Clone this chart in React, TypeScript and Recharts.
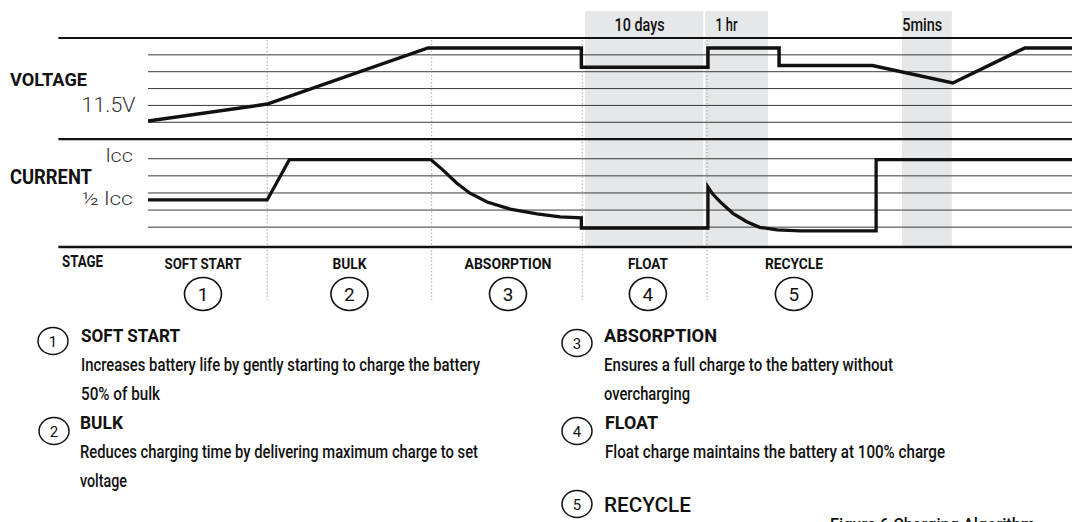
import React from 'react';
import { ComposedChart, Line, XAxis, YAxis, ReferenceLine, ReferenceArea, ReferenceDot } from 'recharts';

const FONT = "Roboto, 'DejaVu Sans', Arial, sans-serif";

// ---- data (time in arbitrary cycle units 0..100, levels in grid units) ----
const VOLT_T = [0, 12.9, 30.3, 46.9, 46.9, 60.6, 60.6, 68.3, 68.3, 78.4, 87.1, 94.9, 100];
const VOLT_V = [1.07, 2.08, 5.41, 5.41, 4.27, 4.27, 5.41, 5.41, 4.37, 4.37, 3.33, 5.41, 5.41];

const CURR_T = [0, 12.9, 15.3, 30.6, 31.9, 33.4, 34.8, 36.7, 39.2, 42.1, 44.6, 46.9, 46.9, 60.6, 60.6, 61.1, 61.9, 63.3, 64.8, 66.2, 68.1, 70.6, 78.8, 78.8, 100];
const CURR_I = [2.59, 2.59, 4.95, 4.95, 4.35, 3.58, 3.0, 2.47, 2.06, 1.77, 1.6, 1.54, 0.95, 0.95, 3.35, 2.95, 2.49, 1.81, 1.32, 0.99, 0.84, 0.78, 0.78, 4.95, 4.95];

const VOLT_GRID = [1, 2, 3, 4, 5];
const CURR_GRID = [1, 2, 3, 4, 5];

const VOLT_TICK_VALUES = [2];
const VOLT_TICK_LABELS = ['11.5V'];
const CURR_TICK_VALUES = [5, 2.6];
const CURR_TICK_LABELS = ['lcc', '½ lcc'];

const STAGE_NAMES = ['SOFT START', 'BULK', 'ABSORPTION', 'FLOAT', 'RECYCLE'];
const STAGE_NUMS = ['1', '2', '3', '4', '5'];
const STAGE_CENTER_T = [5.95, 21.8, 38.96, 54.1, 69.9];
const STAGE_BOUNDARY_T = [12.9, 30.7, 47.0, 60.5];

const BAND_FROM = [47.3, 60.3, 81.6];
const BAND_TO = [60.1, 67.1, 87.0];
const BAND_LABELS = ['10 days', '1 hr', '5mins'];
const BAND_LABEL_T = [53.2, 62.6, 83.8];

const DESC_NUMS = ['1', '2', '3', '4', '5'];
const DESC_TITLES = ['SOFT START', 'BULK', 'ABSORPTION', 'FLOAT', 'RECYCLE'];
const DESC_LINES = [
  ['Increases battery life by gently starting to charge the battery', '50% of bulk'],
  ['Reduces charging time by delivering maximum charge to set', 'voltage'],
  ['Ensures a full charge to the battery without', 'overcharging'],
  ['Float charge maintains the battery at 100% charge'],
  [],
];
const CAPTION = 'Figure 6 Charging Algorithm';

// ---- layout / style (not data) ----
const W = 1072;
const H = 522;
const PLOT = { top: 38, bottom: 247, left: 148, right: 0 };
const X_DOMAIN = [0, 100];
const V_DOMAIN = [-6.4, 6];
const C_DOMAIN = [-0.16, 12.06];
const FRAME_LEFT_T = -9.7;
const V_TOP = 6;
const V_SEP = 0;
const C_BOTTOM = -0.16;
const DOT_TOP_C = 11.94;
const DOT_BOTTOM_C = -3.26;
const BAND_TOP_C = 13.64;
const BAND_LABEL_C = 12.53;
const STAGE_DOT_C = -2.91;
const TICK_LABEL_T = -1.35;

const TEXT_W: Record<string, number> = {
  'SOFT START': 77, BULK: 34, ABSORPTION: 87, FLOAT: 40, RECYCLE: 58,
  '10 days': 50, '1 hr': 22, '5mins': 40,
  '11.5V': 54, lcc: 27, '½ lcc': 51,
};
const DESC_TITLE_W = [99, 43, 113, 53, 87];
const DESC_LINE_W = [[399, 79], [398, 47], [289, 86], [340], []];
const DESC_POS = [
  { cx: 53, cy: 341, x: 81, y: 342 },
  { cx: 54, cy: 431, x: 80, y: 429 },
  { cx: 577, cy: 343, x: 604, y: 342 },
  { cx: 577, cy: 431, x: 605, y: 429 },
  { cx: 577, cy: 504, x: 604, y: 512 },
];

const voltData = VOLT_T.map((t, i) => ({ t, v: VOLT_V[i] }));
const currData = CURR_T.map((t, i) => ({ t, c: CURR_I[i] }));

function CText(p: any) {
  const { x, y, w, size, weight = 400, anchor = 'start', fill = '#111', children } = p;
  return (
    <text
      x={x}
      y={y}
      fontFamily={FONT}
      fontSize={size}
      fontWeight={weight}
      textAnchor={anchor}
      fill={fill}
      textLength={w}
      lengthAdjust={w ? 'spacingAndGlyphs' : undefined}
    >
      {children}
    </text>
  );
}

export default function App() {
  return (
    <div style={{ position: 'absolute', left: 0, top: 0, width: W, height: H, background: '#fff', overflow: 'hidden' }}>
      <ComposedChart
        width={W}
        height={H}
        margin={{ top: PLOT.top, right: PLOT.right, bottom: H - PLOT.bottom, left: PLOT.left }}
      >
        <XAxis dataKey="t" type="number" domain={X_DOMAIN} hide allowDataOverflow />
        <YAxis yAxisId="v" type="number" domain={V_DOMAIN} hide allowDataOverflow />
        <YAxis yAxisId="c" type="number" domain={C_DOMAIN} hide allowDataOverflow />

        {BAND_FROM.map((f, i) => (
          <ReferenceArea
            key={'band' + i}
            yAxisId="c"
            x1={f}
            x2={BAND_TO[i]}
            y1={C_BOTTOM}
            y2={BAND_TOP_C}
            fill="#e6e7e8"
            fillOpacity={1}
            stroke="none"
            ifOverflow="visible"
          />
        ))}

        {VOLT_GRID.map((g) => (
          <ReferenceLine key={'vg' + g} yAxisId="v" y={g} stroke="#3a3a3a" strokeWidth={1} ifOverflow="visible" />
        ))}
        {CURR_GRID.map((g) => (
          <ReferenceLine key={'cg' + g} yAxisId="c" y={g} stroke="#3a3a3a" strokeWidth={1} ifOverflow="visible" />
        ))}

        {STAGE_BOUNDARY_T.map((b, i) => (
          <ReferenceLine
            key={'sb' + i}
            yAxisId="c"
            segment={[{ x: b, y: DOT_TOP_C }, { x: b, y: DOT_BOTTOM_C }]}
            stroke="#a8a8a8"
            strokeWidth={1}
            strokeDasharray="1.5 2"
            ifOverflow="visible"
          />
        ))}

        <ReferenceLine yAxisId="v" segment={[{ x: FRAME_LEFT_T, y: V_TOP }, { x: X_DOMAIN[1], y: V_TOP }]} stroke="#111" strokeWidth={2.2} ifOverflow="visible" />
        <ReferenceLine yAxisId="v" segment={[{ x: FRAME_LEFT_T, y: V_SEP }, { x: X_DOMAIN[1], y: V_SEP }]} stroke="#111" strokeWidth={2.2} ifOverflow="visible" />
        <ReferenceLine yAxisId="c" segment={[{ x: FRAME_LEFT_T, y: C_BOTTOM }, { x: X_DOMAIN[1], y: C_BOTTOM }]} stroke="#111" strokeWidth={2.4} ifOverflow="visible" />

        <Line
          data={voltData}
          yAxisId="v"
          dataKey="v"
          type="linear"
          stroke="#111"
          strokeWidth={3.5}
          dot={false}
          activeDot={false}
          isAnimationActive={false}
        />
        <Line
          data={currData}
          yAxisId="c"
          dataKey="c"
          type="linear"
          stroke="#111"
          strokeWidth={3.3}
          dot={false}
          activeDot={false}
          isAnimationActive={false}
        />

        {BAND_LABELS.map((l, i) => (
          <ReferenceDot
            key={'bl' + i}
            yAxisId="c"
            x={BAND_LABEL_T[i]}
            y={BAND_LABEL_C}
            r={1}
            ifOverflow="visible"
            shape={(p: any) => (
              <CText x={p.cx} y={p.cy + 1.5} w={TEXT_W[l]} size={19} weight={500} anchor="middle">{l}</CText>
            )}
          />
        ))}

        {VOLT_TICK_VALUES.map((v, i) => (
          <ReferenceDot
            key={'vt' + i}
            yAxisId="v"
            x={TICK_LABEL_T}
            y={v}
            r={1}
            ifOverflow="visible"
            shape={(p: any) => (
              <CText x={p.cx} y={p.cy + 7} w={TEXT_W[VOLT_TICK_LABELS[i]]} size={21} weight={300} anchor="end" fill="#333">
                {VOLT_TICK_LABELS[i]}
              </CText>
            )}
          />
        ))}
        {CURR_TICK_VALUES.map((v, i) => (
          <ReferenceDot
            key={'ct' + i}
            yAxisId="c"
            x={TICK_LABEL_T - 0.3}
            y={v}
            r={1}
            ifOverflow="visible"
            shape={(p: any) => (
              <CText x={p.cx} y={p.cy + (i === 0 ? 3 : 5)} w={TEXT_W[CURR_TICK_LABELS[i]]} size={18} weight={300} anchor="end" fill="#333">
                {CURR_TICK_LABELS[i]}
              </CText>
            )}
          />
        ))}

        {STAGE_NAMES.map((s, i) => (
          <ReferenceDot
            key={'st' + i}
            yAxisId="c"
            x={STAGE_CENTER_T[i]}
            y={STAGE_DOT_C}
            r={18}
            ifOverflow="visible"
            shape={(p: any) => (
              <g>
                <ellipse cx={p.cx} cy={p.cy} rx={18.5} ry={16.5} fill="none" stroke="#111" strokeWidth={1.6} />
                <text x={p.cx} y={p.cy + 7} textAnchor="middle" fontFamily={FONT} fontSize={19} fill="#111">
                  {STAGE_NUMS[i]}
                </text>
                <CText x={p.cx} y={p.cy - 25} w={TEXT_W[s]} size={15.5} weight={700} anchor="middle">{s}</CText>
              </g>
            )}
          />
        ))}
      </ComposedChart>

      <svg width={W} height={H} style={{ position: 'absolute', left: 0, top: 0, pointerEvents: 'none' }}>
        <CText x={10} y={86} w={77} size={19} weight={700}>VOLTAGE</CText>
        <CText x={10} y={184} w={82} size={20} weight={700}>CURRENT</CText>
        <CText x={62} y={267} w={41} size={16} weight={700}>STAGE</CText>

        {DESC_NUMS.map((n, i) => {
          const pos = DESC_POS[i];
          return (
            <g key={'d' + i}>
              <ellipse cx={pos.cx} cy={pos.cy} rx={15} ry={13.5} fill="none" stroke="#111" strokeWidth={1.5} />
              <text x={pos.cx} y={pos.cy + 5.5} textAnchor="middle" fontFamily={FONT} fontSize={15} fill="#111">{n}</text>
              <CText x={pos.x} y={pos.y} w={DESC_TITLE_W[i]} size={i === 4 ? 20 : 19} weight={i === 4 ? 500 : 700}>
                {DESC_TITLES[i]}
              </CText>
              {DESC_LINES[i].map((ln, j) => (
                <CText key={j} x={pos.x} y={pos.y + 29 + j * 28.5} w={DESC_LINE_W[i][j]} size={19} weight={500}>
                  {ln}
                </CText>
              ))}
            </g>
          );
        })}
        <CText x={830} y={531} w={205} size={19} weight={500}>{CAPTION}</CText>
      </svg>
    </div>
  );
}
